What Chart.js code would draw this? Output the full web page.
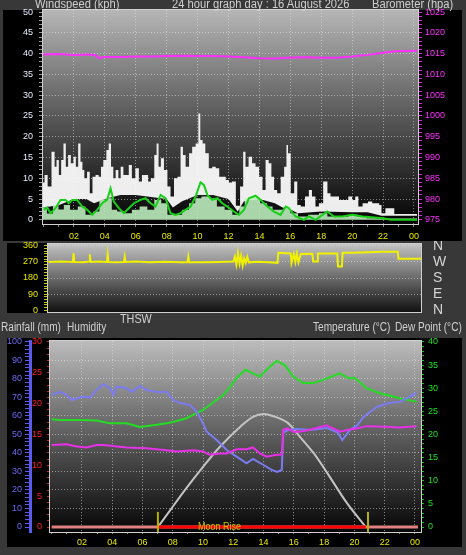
<!DOCTYPE html>
<html><head><meta charset="utf-8">
<script src="https://cdn.jsdelivr.net/npm/chart.js@4.4.1/dist/chart.umd.min.js"></script>
<style>
html,body{margin:0;padding:0;background:#383838;width:466px;height:555px;overflow:hidden;font-family:"Liberation Sans",Arial,sans-serif;}
.blk{position:absolute;background:#000;z-index:0;}
.txt{position:absolute;color:#d0d0d0;font-size:12px;line-height:12px;white-space:nowrap;transform-origin:0 0;z-index:3;}
.cv{position:absolute;z-index:1;}
</style></head><body>
<div class="blk" style="left:3px;top:10px;width:459px;height:231px"></div>
<div class="blk" style="left:7px;top:243px;width:414px;height:70px"></div>
<div class="blk" style="left:7px;top:338px;width:455px;height:209px"></div>

<div class="txt" style="left:35px;top:-2px;transform:scaleX(0.93)">Windspeed (kph)</div>
<div class="txt" style="left:172px;top:-2px;transform:scaleX(0.93)">24 hour graph day : 16 August 2026</div>
<div class="txt" style="left:372px;top:-2px;transform:scaleX(0.93)">Barometer (hpa)</div>
<div class="txt" style="left:120px;top:313px;transform:scaleX(0.9)">THSW</div>
<div class="txt" style="left:1px;top:321px;transform:scaleX(0.84)">Rainfall (mm)</div>
<div class="txt" style="left:67px;top:321px;transform:scaleX(0.84)">Humidity</div>
<div class="txt" style="left:313px;top:321px;transform:scaleX(0.84)">Temperature (°C)</div>
<div class="txt" style="left:395px;top:321px;transform:scaleX(0.84)">Dew Point (°C)</div>
<div class="txt" style="left:198px;top:520px;font-size:11px;color:#c4c400;transform:scaleX(0.82)">Moon Rise</div>

<canvas id="c1" class="cv" width="466" height="245" style="left:0;top:0"></canvas>
<canvas id="c2" class="cv" width="466" height="75" style="left:0;top:241px"></canvas>
<canvas id="c3" class="cv" width="466" height="220" style="left:0;top:335px"></canvas>

<script>
// ---------- DATA ----------
const hourLabels = ['00','02','04','06','08','10','12','14','16','18','20','22'];

const gustTimes = [0,0.2,0.4,0.7,0.8,0.95,1.1,1.25,1.4,1.55,
 1.7,1.9,2.05,2.2,2.35,2.5,2.6,2.75,2.95,3.1,
 3.3,3.5,3.7,3.8,4.0,4.2,4.3,4.5,4.6,4.8,
 4.95,5.1,5.3,5.45,5.65,5.85,6.1,6.3,6.5,6.75,
 6.85,7.1,7.3,7.4,7.55,7.7,7.95,8.15,8.35,8.6,
 8.8,9.0,9.1,9.35,9.55,9.75,10.0,10.1,10.25,10.4,
 10.6,10.85,11.05,11.3,11.5,11.7,11.95,12.1,12.35,12.6,
 12.9,13.0,13.2,13.4,13.65,13.85,14.1,14.3,14.5,14.7,
 14.85,15.05,15.25,15.5,15.7,15.8,15.9,16.15,16.35,16.55,
 16.8,17.1,17.3,17.5,17.75,17.95,18.3,18.5,18.7,19.05,
 19.25,19.6,19.9,20.1,20.3,20.5,20.85,21.2,21.4,21.65,
 21.85,21.95,22.35,22.65,22.8,24.2];
const gustValues = [9,10.8,8,16.4,12.8,14.4,10.8,14.4,18.4,12.8,
 15.6,13.6,15.2,12.8,18.4,14,12,10,11.6,6.4,
 10.4,10.8,10.4,12.8,14.4,16.8,18.4,12.8,10,12,
 10,12.8,10.8,10.8,13.2,10,12.4,9.2,10.8,10.8,
 9.2,10,15.6,18.4,12.8,14.8,12,8,5.6,10,
 10.4,17.6,15.6,12.8,16,17.6,18.4,25.6,19.2,18.4,
 16,12.4,12.8,12.4,10.4,10.4,9.6,9,9.2,3.4,
 8,16.4,12.8,15.2,13.6,12.8,10.4,7.2,14.4,13.6,
 10.4,7.2,6.4,10.4,12.8,18,16,6.4,9.2,3.6,
 3.2,5.6,7.2,5.6,3.2,4,9.2,6.4,5.6,5.6,
 4.8,4.8,5.6,4.8,5.6,3.2,4,4.4,4,4,
 3.6,1.6,2.8,2.8,1.4,1.4];
const gustFloorTimes = [0,1,2,2.8,3.3,4,5,6,7,8,8.4,9,10,11,12,12.6,13,14,15,15.5,16,16.5,18,20,21,21.9,24.2];
const gustFloorValues = [3,3.5,5,5,4,5,6,6,5.5,5,3,4.5,6,6,5,2,4.5,5,4,3,2.5,1.6,2,1.8,1.8,1.0,1.0];
const windTimes = [0,0.5,0.8,1.2,1.5,2,2.5,3,3.5,3.8,
 4.3,4.6,5,5.5,6,6.5,7,7.4,7.9,8.2,
 8.8,9.2,9.7,10,10.5,11,11.5,12,12.5,12.9,
 13.2,13.8,14.3,14.7,15,15.5,15.8,16.2,16.8,17.5,
 18.2,18.6,19.5,20,20.7,21.2,22,24.2];
const windValues = [3,1.5,3.6,2.5,3.6,2.4,3.2,1.2,2,4.8,
 5.2,2.4,2,1.6,2.4,3.2,2.4,4.8,4,1.2,
 1.2,2.4,4,5.2,5.6,5.2,3.2,2.4,1.2,3.2,
 5.2,5.6,4,3.2,2.4,2.4,3.2,1.6,0.8,1.2,
 1.6,0.8,0.8,1.2,0.8,0.4,0.3,0.3];
const avgTimes = [0.05,0.27,0.49,0.81,1.13,1.46,1.67,1.89,2.21,2.54,
 2.86,3.18,3.51,3.83,4.15,4.37,4.58,4.91,5.23,5.55,
 5.88,6.31,6.63,6.96,7.28,7.61,7.93,8.25,8.58,8.9,
 9.22,9.55,9.87,10.19,10.41,10.63,10.95,11.28,11.6,11.92,
 12.35,12.67,13.0,13.32,13.75,14.08,14.51,14.94,15.37,15.7,
 15.91,16.34,16.88,17.2,17.64,18.39,18.82,19.36,20.01,20.66,
 22.0,22.5,24.2];
const avgValues = [2.4,3,1.6,2.8,4.8,4.8,4,4.8,4.8,3.2,
 2.4,1.2,2.4,4,4.8,7.6,4.4,2.8,1.6,2.8,
 4,4.8,5.2,4,3.2,6,5.2,1.6,1.2,1.6,
 2.4,3.2,5.6,9,8.4,6,4.8,5.2,4,3.2,
 2,1.2,2.4,5.2,5.8,4.8,3.2,2,1.2,3.2,
 2.8,0.8,0,0.8,0,2,0.8,0.8,1.2,0.8,
 0.4,0,0];
const baroTimes = [0,1,2,3,3.4,3.6,3.9,5,6,7,8,9,10,11,12,13,14,15,15.8,17,18,19,20,21,22,22.8,24.2];
const baroValues = [1014.8,1014.9,1014.7,1014.8,1014.6,1013.9,1014.2,1014.2,1014.3,1014.3,1014.4,1014.5,1014.4,1014.4,1014.3,1014.1,1013.9,1013.8,1014.0,1014.1,1014.0,1014.0,1014.3,1014.7,1015.2,1015.6,1015.7];

const dirTimes = [0,0.8,1.55,1.6,1.65,2.2,2.6,2.65,2.7,3.2,
 3.75,3.8,3.85,4.4,4.85,4.9,4.95,5.6,6.5,7.5,
 8.5,8.95,9.0,9.05,10.0,11.0,11.9,12.0,12.1,12.2,
 12.3,12.4,12.5,12.6,12.7,12.8,12.9,13.5,14.2,14.75,
 14.8,15.6,15.65,15.8,15.9,16.0,16.1,16.25,17.0,17.05,
 17.3,17.35,18.6,18.65,18.9,18.95,19.6,20.5,21.5,22.5,
 22.55,24.0];
const dirValues = [270,272,270,320,270,268,272,313,270,272,
 270,312,270,268,270,300,270,272,268,271,
 268,270,300,270,268,270,272,300,255,320,
 262,305,250,290,265,300,268,271,268,265,
 322,318,265,315,270,318,268,315,316,272,
 272,318,318,245,245,322,322,325,328,328,
 288,288];
const compassLabels = {0:'N',90:'E',180:'S',270:'W',360:'N'};

const humTimes = [0,0.55,0.99,1.32,1.98,2.53,2.97,3.41,3.85,4.07,
 4.29,4.95,5.28,5.83,6.27,6.94,7.6,8.03,8.47,9.13,
 9.58,10.0,10.24,10.9,11.56,12.22,12.88,13.3,14.0,14.5,
 14.9,15.2,15.3,15.6,16.2,17.1,18.2,18.9,19.2,19.7,
 20.2,20.6,21.5,22.3,23.0,24.1];
const humValues = [71.4,73,71.4,68.6,70.4,70,74,77.3,75,71.4,
 75.9,75,73,76.2,74,73,73,68.6,67,66,
 62.3,56,51.5,47,41.6,38,34.4,36.8,33.5,31,
 29.7,30.8,51,52.4,53,52.4,53.5,51,47,52.4,
 55,59.5,65,67,67.6,72.4];
const tempTimes = [0,0.55,1.87,2.97,3.85,4.95,5.83,6.94,7.6,8.14,
 8.9,9.58,10.0,10.67,11.34,11.78,12.22,12.8,13.3,13.76,
 14.3,14.86,15.4,15.96,16.62,17.28,17.94,19.04,19.59,20.03,
 20.8,21.68,22.56,23.0,24.1];
const tempValues = [23.3,23.1,23.1,23.0,22.4,22.4,21.6,22.1,22.4,22.8,
 23.5,24.6,25.3,26.9,28.5,30.3,32.2,34.0,33.2,32.5,
 34.3,35.9,35.0,32.5,31.1,31.1,31.8,33.2,32.2,32.2,
 30.0,28.9,28.2,27.8,27.1];
const dewTimes = [0,0.99,1.65,2.3,2.97,3.41,4.95,6.27,7.6,8.25,
 9.36,10.0,10.46,11.12,11.56,12.22,12.88,13.3,13.76,14.2,
 14.86,15.2,15.3,15.6,15.96,16.4,17.06,18.16,18.6,19.04,
 19.6,20.14,20.8,21.68,23.0,24.1];
const dewValues = [17.7,17.9,17.4,17.2,17.7,17.7,17.2,17.0,16.6,16.3,
 16.6,16.3,15.6,15.9,15.9,16.8,16.8,17.2,15.9,15.2,
 15.6,15.6,21.0,21.3,20.6,20.6,21.0,22.0,21.3,20.6,
 21.0,21.3,21.8,21.7,21.5,21.8];
const moonTimes = [7.02,7.8,8.9,10.0,11.1,12.5,13.3,14.0,14.6,15.6,16.4,17.3,18.2,19.5,20.75];
const moonValues = [0,3.5,8.4,13.0,17.3,21.8,23.8,24.4,24.0,22.5,19.5,16.0,11.7,5.2,0];
const rainTimes = [0,24.2];
const rainValues = [0,0];
const moonUpTimes = [7.02,20.75];
const moonUpValues = [0,0];
const moonMarkHours = [7.02,20.9];
const moonMarkRange = [-0.8,2.45];

// ---------- HELPERS ----------
const F = '"Liberation Sans", Arial, sans-serif';
const pts = (t, v) => t.map((x, i) => ({x, y: v[i]}));
const GRID = 'rgba(225,225,225,0.55)';
const fitV = w => s => { s.width = w; s.paddingTop = 0; s.paddingBottom = 0; };
function plotBg(stops){
  return {id:'plotBg',
    beforeDraw(chart){
      const {ctx, chartArea:a} = chart;
      const g = ctx.createLinearGradient(0, a.top, 0, a.bottom);
      stops.forEach(s => g.addColorStop(s[0], s[1]));
      ctx.save(); ctx.fillStyle = g;
      ctx.fillRect(a.left, a.top, a.right - a.left, a.bottom - a.top);
      ctx.restore();
    },
    afterDraw(chart){
      const {ctx, chartArea:a} = chart;
      ctx.save(); ctx.strokeStyle = '#cfcfcf'; ctx.lineWidth = 1;
      ctx.strokeRect(a.left - 0.5, a.top - 0.5, a.right - a.left + 1, a.bottom - a.top + 1);
      ctx.restore();
    }};
}
function xAxis(min, max, o){
  return {type:'linear', min, max, position:'bottom',
    ticks:{stepSize:1, autoSkip:false, includeBounds:false, maxRotation:0, color:'#e8e800',
      font:{size:9, family:F}, padding:o.pad,
      callback:v => (v > 0 && v % 2 === 0) ? hourLabels[(v % 24) / 2] : ''},
    grid:{color:c => (c.tick && c.tick.value > 0 && c.tick.value % 2 === 0) ? GRID : 'transparent',
      tickColor:'#8a8a8a', tickLength:o.tl},
    border:{display:false, dash:[1,2]},
    afterFit:s => { s.height = o.h; s.paddingLeft = 0; s.paddingRight = 0; }};
}
const base = {responsive:false, animation:false, events:[],
  plugins:{legend:{display:false}, tooltip:{enabled:false}},
  elements:{point:{radius:0}, line:{tension:0}}};

// ---------- CHART 1: wind + barometer ----------
new Chart(document.getElementById('c1'), {
  type:'line',
  data:{datasets:[
    {data:pts(baroTimes, baroValues), yAxisID:'yb', borderColor:'#ff30ff', borderWidth:2},
    {data:pts(avgTimes, avgValues), yAxisID:'y', borderColor:'#18d018', borderWidth:2},
    {data:pts(windTimes, windValues), yAxisID:'y', borderWidth:0, stepped:'middle',
      fill:'origin', backgroundColor:'rgba(192,240,192,0.88)'},
    {data:pts(gustTimes, gustValues), yAxisID:'y', borderWidth:0, stepped:'middle',
      fill:'+1', backgroundColor:'rgba(250,250,250,0.95)'},
    {data:pts(gustFloorTimes, gustFloorValues), yAxisID:'y', borderWidth:0, fill:false}
  ]},
  options:{...base, layout:{padding:{top:10}},
    scales:{
      x:xAxis(0, 24.26, {pad:4, tl:3, h:21}),
      y:{type:'linear', position:'left', min:-1, max:50.5,
        ticks:{stepSize:1, autoSkip:false, includeBounds:false, color:'#e6ecff', font:{size:9, family:F}, padding:6,
          callback:v => (v >= 0 && v % 5 === 0) ? String(v) : ''},
        grid:{color:c => (c.tick && c.tick.value > 0 && c.tick.value < 50 && c.tick.value % 5 === 0) ? GRID : 'transparent',
          tickColor:c => (c.tick && c.tick.value < 0) ? 'transparent' : '#9a9a9a', tickLength:4},
        border:{display:false, dash:[1,2]},
        afterFit:fitV(43)},
      yb:{type:'linear', position:'right', min:974, max:1025.5,
        ticks:{stepSize:1, autoSkip:false, includeBounds:false, color:'#ff30ff', font:{size:9, family:F}, padding:3,
          callback:v => (v >= 975 && v % 5 === 0) ? String(v) : ''},
        grid:{drawOnChartArea:false, tickColor:c => (c.tick && c.tick.value < 975) ? 'transparent' : '#e020e0', tickLength:4},
        border:{display:false},
        afterFit:fitV(48)}
    }},
  plugins:[plotBg([[0,'#b6b6b6'],[0.5,'#585858'],[1,'#030303']])]
});

// ---------- CHART 2: wind direction ----------
new Chart(document.getElementById('c2'), {
  type:'line',
  data:{datasets:[
    {data:pts(dirTimes, dirValues), yAxisID:'y', borderColor:'#f0f000', borderWidth:2}
  ]},
  options:{...base, layout:{padding:{top:3, bottom:4}},
    scales:{
      x:{type:'linear', min:-0.05, max:24, display:false},
      y:{type:'linear', position:'left', min:-11, max:371,
        ticks:{stepSize:15, autoSkip:false, includeBounds:false, color:'#e8e800', font:{size:9, family:F}, padding:6,
          callback:v => (v % 90 === 0) ? String(v) : ''},
        grid:{color:c => (c.tick && c.tick.value > 0 && c.tick.value % 90 === 0) ? GRID : 'transparent',
          tickColor:'#c8c800', tickLength:4},
        border:{display:false, dash:[1,2]},
        afterFit:fitV(48)},
      yc:{type:'linear', position:'right', min:-11, max:371,
        ticks:{stepSize:90, autoSkip:false, includeBounds:false, color:'#d4d4d4', font:{size:14, family:F}, padding:12,
          callback:v => compassLabels[v] || ''},
        grid:{drawOnChartArea:false, drawTicks:false},
        border:{display:false},
        afterFit:fitV(45)}
    }},
  plugins:[plotBg([[0,'#c2c2c2'],[0.5,'#6a6a6a'],[1,'#101010']])]
});

// ---------- CHART 3: temperature / humidity / dew point / rain ----------
const vLine = h => [{x:h, y:moonMarkRange[0]}, {x:h, y:moonMarkRange[1]}];
new Chart(document.getElementById('c3'), {
  type:'line',
  data:{datasets:[
    {data:vLine(moonMarkHours[0]), yAxisID:'yr', borderColor:'#b4b400', borderWidth:2},
    {data:vLine(moonMarkHours[1]), yAxisID:'yr', borderColor:'#b4b400', borderWidth:2},
    {data:pts(moonUpTimes, moonUpValues), yAxisID:'yr', borderColor:'#ff0000', borderWidth:3},
    {data:pts(rainTimes, rainValues), yAxisID:'yr', borderColor:'#e08080', borderWidth:3},
    {data:pts(dewTimes, dewValues), yAxisID:'yt', borderColor:'#e830e8', borderWidth:2},
    {data:pts(humTimes, humValues), yAxisID:'yh', borderColor:'#7b7bf2', borderWidth:2},
    {data:pts(tempTimes, tempValues), yAxisID:'yt', borderColor:'#22dd22', borderWidth:2},
    {data:pts(moonTimes, moonValues), yAxisID:'yt', borderColor:'#c4c4c4', borderWidth:2, cubicInterpolationMode:'monotone'}
  ]},
  options:{...base, layout:{padding:{top:6}},
    scales:{
      x:xAxis(-0.11, 24.4, {pad:3, tl:2, h:23}),
      yh:{type:'linear', position:'left', weight:2, min:-2.7, max:100.5,
        ticks:{stepSize:2, autoSkip:false, includeBounds:false, color:'#6a6af4', font:{size:9, family:F}, padding:3,
          callback:v => (v >= 0 && v % 10 === 0) ? String(v) : ''},
        grid:{color:c => (c.tick && c.tick.value > 0 && c.tick.value < 100 && c.tick.value % 10 === 0) ? GRID : 'transparent',
          tickColor:c => (c.tick && c.tick.value < 0) ? 'transparent' : '#5a5ae8', tickLength:5},
        border:{display:true, color:'#5a5aee', width:3, dash:[1,2]},
        afterFit:fitV(30)},
      yr:{type:'linear', position:'left', weight:1, min:-0.81, max:30.16,
        ticks:{stepSize:1, autoSkip:false, includeBounds:false, color:'#ff2020', font:{size:9, family:F}, padding:5,
          callback:v => (v >= 0 && v % 5 === 0) ? String(v) : ''},
        grid:{drawOnChartArea:false, tickColor:c => (c.tick && c.tick.value < 0) ? 'transparent' : '#d02020', tickLength:3},
        border:{display:false},
        afterFit:fitV(20)},
      yt:{type:'linear', position:'right', min:-1.08, max:40.2,
        ticks:{stepSize:1, autoSkip:false, includeBounds:false, color:'#22e022', font:{size:9, family:F}, padding:4,
          callback:v => (v >= 0 && v % 5 === 0) ? String(v) : ''},
        grid:{drawOnChartArea:false, tickColor:c => (c.tick && c.tick.value < 0) ? 'transparent' : '#20c020', tickLength:3},
        border:{display:false},
        afterFit:fitV(45)}
    }},
  plugins:[plotBg([[0,'#bcbcbc'],[0.5,'#5c5c5c'],[1,'#060606']])]
});
</script>
</body></html>
